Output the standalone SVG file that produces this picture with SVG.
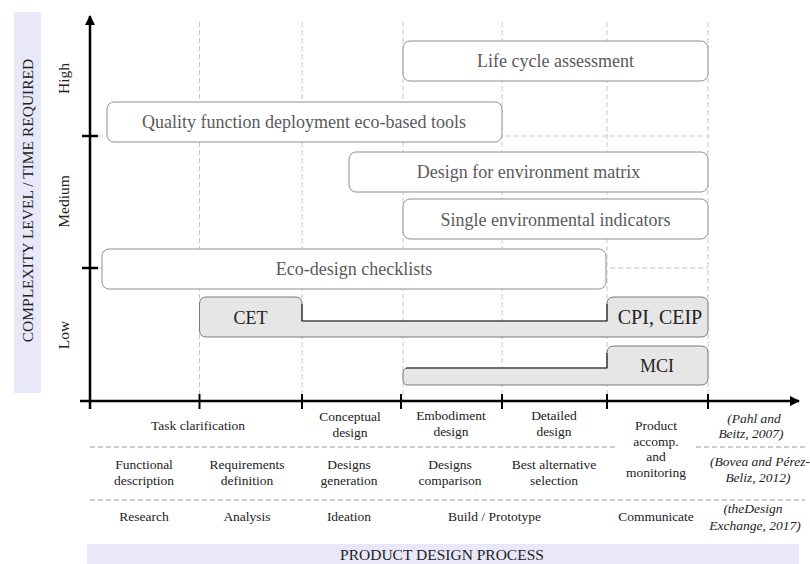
<svg xmlns="http://www.w3.org/2000/svg" width="810" height="564" viewBox="0 0 810 564">
<style>
text{font-family:"Liberation Serif","Times New Roman",serif;}
.grid{stroke:#c8c8c8;stroke-width:1;stroke-dasharray:5,3;fill:none}
.sep{stroke:#9a9a9a;stroke-width:1;stroke-dasharray:5,3;fill:none}
.axis{stroke:#000;stroke-width:2.5;fill:none}
.tick{stroke:#000;stroke-width:2;fill:none}
.box{fill:#fff;stroke:#8f8f8f;stroke-width:1}
.btxt{font-size:18px;fill:#5a5a5a;text-anchor:middle}
.gbox{fill:#e6e6e6;stroke:#7a7a7a;stroke-width:1}
.dark{stroke:#2a2a2a;stroke-width:1.2;fill:none}
.gtxt{font-size:18px;fill:#222;text-anchor:middle}
.lbl{font-size:13.5px;fill:#222;text-anchor:middle}
.ref{font-size:13.5px;fill:#222;text-anchor:middle;font-style:italic}
.ax{font-size:15.5px;fill:#222;text-anchor:middle}
.band{fill:#e8e8f8}
</style>
<defs>
<marker id="arr" viewBox="0 0 10 10" refX="9" refY="5" markerWidth="4" markerHeight="4" orient="auto" markerUnits="strokeWidth">
<path d="M0,0 L10,5 L0,10 Z" fill="#000"/>
</marker>
</defs>

<g id="bands">
<rect class="band" x="14" y="12" width="27" height="381"/>
<rect class="band" x="87" y="544" width="712" height="20"/>
<text class="ax" transform="translate(33,200.5) rotate(-90)">COMPLEXITY LEVEL / TIME REQUIRED</text>
<text class="ax" x="442" y="560">PRODUCT DESIGN PROCESS</text>
</g>

<g id="connectors">
<line class="grid" x1="199.5" y1="22" x2="199.5" y2="401"/>
<line class="grid" x1="302" y1="22" x2="302" y2="401"/>
<line class="grid" x1="403" y1="22" x2="403" y2="401"/>
<line class="grid" x1="502" y1="22" x2="502" y2="401"/>
<line class="grid" x1="607" y1="22" x2="607" y2="401"/>
<line class="grid" x1="708" y1="22" x2="708" y2="401"/>
<line class="grid" x1="90" y1="136" x2="708" y2="136"/>
<line class="grid" x1="90" y1="268" x2="708" y2="268"/>
<line class="axis" x1="90" y1="409" x2="90" y2="16" marker-end="url(#arr)"/>
<line class="axis" x1="80" y1="401" x2="799" y2="401" marker-end="url(#arr)"/>
<line class="axis" x1="82" y1="136" x2="98" y2="136"/>
<line class="axis" x1="82" y1="268" x2="98" y2="268"/>
<line class="tick" x1="90" y1="394" x2="90" y2="409"/>
<line class="tick" x1="199.5" y1="394" x2="199.5" y2="409"/>
<line class="tick" x1="302" y1="394" x2="302" y2="409"/>
<line class="tick" x1="401" y1="394" x2="401" y2="409"/>
<line class="tick" x1="502" y1="394" x2="502" y2="409"/>
<line class="tick" x1="607" y1="394" x2="607" y2="409"/>
<line class="tick" x1="708" y1="394" x2="708" y2="409"/>
<line class="sep" x1="90" y1="447" x2="617" y2="447"/>
<line class="sep" x1="696" y1="447" x2="805" y2="447"/>
<line class="sep" x1="90" y1="500" x2="805" y2="500"/>
</g>

<g id="levels">
<text class="ax" transform="translate(69,78.5) rotate(-90)">High</text>
<text class="ax" transform="translate(69,201.5) rotate(-90)">Medium</text>
<text class="ax" transform="translate(69,335) rotate(-90)">Low</text>
</g>

<g id="lca">
<rect class="box" x="403" y="41" width="305" height="40" rx="7"/>
<text class="btxt" x="555.5" y="67">Life cycle assessment</text>
</g>
<g id="qfd">
<rect class="box" x="107" y="102" width="395" height="40" rx="7"/>
<text class="btxt" x="304" y="128">Quality function deployment eco-based tools</text>
</g>
<g id="dfe">
<rect class="box" x="349" y="152" width="359" height="40" rx="7"/>
<text class="btxt" x="528.5" y="178">Design for environment matrix</text>
</g>
<g id="sei">
<rect class="box" x="403" y="199" width="305" height="40" rx="7"/>
<text class="btxt" x="555.5" y="226">Single environmental indicators</text>
</g>
<g id="checklists">
<rect class="box" x="102" y="249" width="504" height="40" rx="7"/>
<text class="btxt" x="354" y="275">Eco-design checklists</text>
</g>
<g id="cet-cpi">
<path class="gbox" d="M206.5,297 H295 Q302,297 302,304 V321 H607 V304 Q607,297 614,297 H701 Q708,297 708,304 V330 Q708,337 701,337 H206.5 Q199.5,337 199.5,330 V304 Q199.5,297 206.5,297 Z"/>
<path class="dark" d="M302,304 V321 H607 V304"/>
<text class="gtxt" x="250.5" y="324">CET</text>
<text class="gtxt" x="660" y="324" style="font-size:20px">CPI, CEIP</text>
</g>
<g id="mci">
<path class="gbox" d="M408,368 H607 V353 Q607,346 614,346 H701 Q708,346 708,353 V378 Q708,385 701,385 H408 Q403,385 403,380 V373 Q403,368 408,368 Z"/>
<path class="dark" d="M406,368 H607 V353"/>
<text class="gtxt" x="657" y="372">MCI</text>
</g>

<g id="row-pahl">
<text class="lbl" x="198" y="430">Task clarification</text>
<text class="lbl" x="350" y="421">Conceptual</text>
<text class="lbl" x="350" y="437">design</text>
<text class="lbl" x="451" y="420">Embodiment</text>
<text class="lbl" x="451" y="436">design</text>
<text class="lbl" x="554" y="420">Detailed</text>
<text class="lbl" x="554" y="436">design</text>
<text class="lbl" x="656" y="430">Product</text>
<text class="lbl" x="656" y="445.5">accomp.</text>
<text class="lbl" x="656" y="461">and</text>
<text class="lbl" x="656" y="476.5">monitoring</text>
<text class="ref" x="754" y="423">(Pahl and</text>
<text class="ref" x="751" y="438">Beitz, 2007)</text>
</g>
<g id="row-bovea">
<text class="lbl" x="144" y="469">Functional</text>
<text class="lbl" x="144" y="485">description</text>
<text class="lbl" x="247" y="469">Requirements</text>
<text class="lbl" x="247" y="485">definition</text>
<text class="lbl" x="349" y="469">Designs</text>
<text class="lbl" x="349" y="485">generation</text>
<text class="lbl" x="450" y="469">Designs</text>
<text class="lbl" x="450" y="485">comparison</text>
<text class="lbl" x="554" y="469">Best alternative</text>
<text class="lbl" x="554" y="485">selection</text>
<text class="ref" x="760" y="466">(Bovea and Pérez-</text>
<text class="ref" x="758" y="482">Beliz, 2012)</text>
</g>
<g id="row-dx">
<text class="lbl" x="144" y="521">Research</text>
<text class="lbl" x="247" y="521">Analysis</text>
<text class="lbl" x="349" y="521">Ideation</text>
<text class="lbl" x="494.5" y="521">Build / Prototype</text>
<text class="lbl" x="656" y="521">Communicate</text>
<text class="ref" x="753" y="513">(theDesign</text>
<text class="ref" x="755" y="530">Exchange, 2017)</text>
</g>
</svg>
